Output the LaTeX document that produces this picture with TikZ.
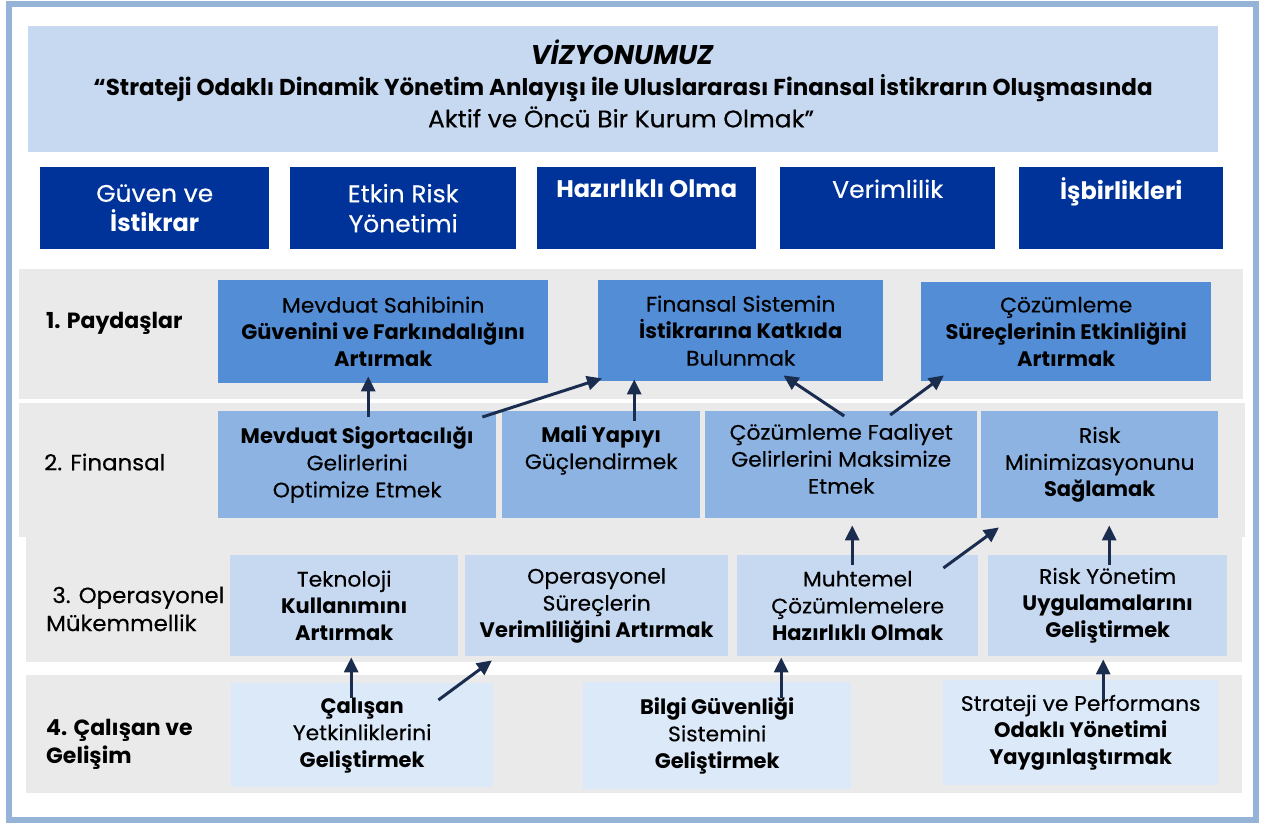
\documentclass[tikz,border=0pt]{standalone}
\usepackage{fontspec}
\setmainfont{Poppins}[UprightFeatures={FakeBold=0.4,FakeStretch=1.04}]
\usetikzlibrary{arrows.meta}
\definecolor{frameC}{HTML}{95B3D7}
\definecolor{visC}{HTML}{C6D9F1}
\definecolor{pilC}{HTML}{003399}
\definecolor{rowC}{HTML}{EAEAEA}
\definecolor{bC}{HTML}{538DD5}
\definecolor{cC}{HTML}{8DB3E2}
\definecolor{dC}{HTML}{C6D9F1}
\definecolor{eC}{HTML}{DCE9F8}
\definecolor{arrC}{HTML}{1B2D4F}
\tikzset{
  bx/.style={draw=none, inner sep=0pt, anchor=north west, align=center, text=black,
    font=\fontsize{21}{27}\selectfont},
  pil/.style={bx, fill=pilC, text=white, font=\fontsize{24}{30}\selectfont},
  lbl/.style={anchor=west, inner sep=0pt, align=left, font=\fontsize{22}{28}\selectfont},
  arr/.style={draw=arrC, line width=3pt, -{Triangle[length=15pt,width=14pt]}},
}
\begin{document}
\begin{tikzpicture}[x=1pt,y=-1pt]
\useasboundingbox (0,0) rectangle (1261,823);
% frame
\draw[frameC, line width=6pt] (9,4) rectangle (1256,820);
% vision
\node[bx, fill=visC, minimum width=1190pt, minimum height=126pt] (vis) at (28,26) {};
\node[inner sep=0pt, font=\fontsize{27}{30}\selectfont\bfseries\itshape] (vt) at (622,52) {VİZYONUMUZ};
\node[inner sep=0pt, font=\fontsize{23}{26}\selectfont\bfseries] (v2) at (623,88) {“Strateji Odaklı Dinamik Yönetim Anlayışı ile Uluslararası Finansal İstikrarın Oluşmasında};
\node[inner sep=0pt, font=\fontsize{24}{26}\selectfont] (v3) at (621,117) {Aktif ve Öncü Bir Kurum Olmak”};
% pillars
\node[pil, minimum width=229pt, minimum height=82pt] (p1) at (40,167) {Güven ve\\\textbf{İstikrar}};
\node[pil, minimum width=226pt, minimum height=82pt] (p2) at (290,167) {Etkin Risk\\Yönetimi};
\node[pil, minimum width=219pt, minimum height=82pt] (p3) at (537,167) {\textbf{Hazırlıklı Olma}\\\strut};
\node[pil, minimum width=215pt, minimum height=82pt] (p4) at (780,167) {Verimlilik\\\strut};
\node[pil, minimum width=204pt, minimum height=82pt] (p5) at (1019,167) {\textbf{İşbirlikleri}\\\strut};
% rows
\node[bx, fill=rowC, minimum width=1224pt, minimum height=130pt] (r1) at (19,269) {};
\node[bx, fill=rowC, minimum width=1226pt, minimum height=134pt] (r2) at (19,403) {};
\node[bx, fill=rowC, minimum width=1216pt, minimum height=125pt] (r3) at (26,537) {};
\node[bx, fill=rowC, minimum width=1216pt, minimum height=118pt] (r4) at (26,675) {};
% row labels
\node[lbl] (l1) at (46,323) {\textbf{1. Paydaşlar}};
\node[lbl] (l2) at (44,462) {2. Finansal};
\node[lbl] (l3) at (46,609) {\ 3. Operasyonel\\Mükemmellik};
\node[lbl] (l4) at (46,744) {\textbf{4. Çalışan ve}\\\textbf{Gelişim}};
% row 1 boxes
\node[bx, fill=bC, minimum width=330pt, minimum height=103pt] (B1) at (218,280) {Mevduat Sahibinin\\\textbf{Güvenini ve Farkındalığını}\\\textbf{Artırmak}};
\node[bx, fill=bC, minimum width=285pt, minimum height=101pt] (B2) at (598,280) {Finansal Sistemin\\\textbf{İstikrarına Katkıda}\\Bulunmak};
\node[bx, fill=bC, minimum width=290pt, minimum height=99pt] (B3) at (921,282) {Çözümleme\\\textbf{Süreçlerinin Etkinliğini}\\\textbf{Artırmak}};
% row 2 boxes
\node[bx, fill=cC, minimum width=278pt, minimum height=107pt] (C1) at (218,411) {\textbf{Mevduat Sigortacılığı}\\Gelirlerini\\Optimize Etmek};
\node[bx, fill=cC, minimum width=198pt, minimum height=107pt] (C2) at (502,411) {\textbf{Mali Yapıyı}\\Güçlendirmek\\\strut};
\node[bx, fill=cC, minimum width=272pt, minimum height=107pt, text depth=12pt] (C3) at (705,411) {Çözümleme Faaliyet\\Gelirlerini Maksimize\\Etmek};
\node[bx, fill=cC, minimum width=237pt, minimum height=107pt] (C4) at (981,411) {Risk\\Minimizasyonunu\\\textbf{Sağlamak}};
% row 3 boxes
\node[bx, fill=dC, minimum width=228pt, minimum height=101pt] (D1) at (230,555) {Teknoloji\\\textbf{Kullanımını}\\\textbf{Artırmak}};
\node[bx, fill=dC, minimum width=263pt, minimum height=101pt] (D2) at (465,555) {Operasyonel\\Süreçlerin\\\textbf{Verimliliğini Artırmak}};
\node[bx, fill=dC, minimum width=241pt, minimum height=101pt] (D3) at (737,555) {Muhtemel\\Çözümlemelere\\\textbf{Hazırlıklı Olmak}};
\node[bx, fill=dC, minimum width=239pt, minimum height=101pt] (D4) at (988,555) {Risk Yönetim\\\textbf{Uygulamalarını}\\\textbf{Geliştirmek}};
% row 4 boxes
\node[bx, fill=eC, minimum width=262pt, minimum height=104pt] (E1) at (231,683) {\textbf{Çalışan}\\Yetkinliklerini\\\textbf{Geliştirmek}};
\node[bx, fill=eC, minimum width=268pt, minimum height=107pt] (E2) at (583,682) {\textbf{Bilgi Güvenliği}\\Sistemini\\\textbf{Geliştirmek}};
\node[bx, fill=eC, minimum width=275pt, minimum height=105pt] (E3) at (943,680) {Strateji ve Performans\\\textbf{Odaklı Yönetimi}\\\textbf{Yaygınlaştırmak}};
% arrows
\draw[arr] ([xshift=11pt,yshift=-6pt]C1.north) -- ([xshift=-15pt,yshift=7pt]B1.south);
\draw[arr] ([xshift=-14pt,yshift=-6pt]C1.north east) -- ([xshift=4pt,yshift=3pt]B2.south west);
\draw[arr] ([xshift=33pt,yshift=-10pt]C2.north) -- ([xshift=-106.5pt,yshift=2pt]B2.south);
\draw[arr] ([xshift=3pt,yshift=-5pt]C3.north) -- ([xshift=-100pt,yshift=6pt]B2.south east);
\draw[arr] ([xshift=49pt,yshift=-4pt]C3.north) -- ([xshift=23pt,yshift=6pt]B3.south west);
\draw[arr] ([xshift=-5.5pt,yshift=-10pt]D3.north) -- ([xshift=11pt,yshift=-7pt]C3.south);
\draw[arr] ([xshift=-35pt,yshift=-13pt]D3.north east) -- ([xshift=18pt,yshift=-9pt]C4.south west);
\draw[arr] ([xshift=1.5pt,yshift=-10pt]D4.north) -- ([xshift=9.5pt,yshift=-7pt]C4.south);
\draw[arr] ([xshift=-11pt,yshift=-15pt]E1.north) -- ([xshift=7pt,yshift=-1pt]D1.south);
\draw[arr] ([xshift=-55pt,yshift=-17pt]E1.north east) -- ([xshift=27pt,yshift=-4pt]D2.south west);
\draw[arr] ([xshift=64pt,yshift=-16pt]E2.north) -- ([xshift=-76.5pt,yshift=-1pt]D3.south);
\draw[arr] ([xshift=22.5pt,yshift=-20pt]E3.north) -- ([xshift=-4.5pt,yshift=-3pt]D4.south);
\end{tikzpicture}
\end{document}
